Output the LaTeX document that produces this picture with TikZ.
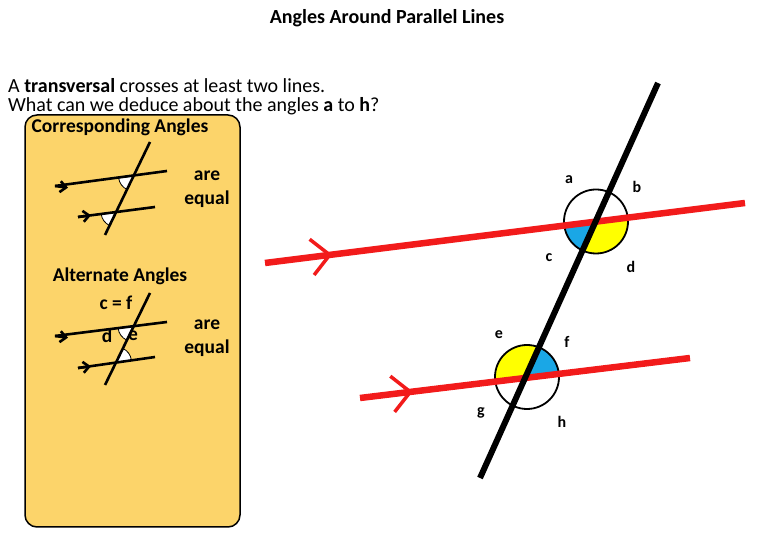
\documentclass[tikz,border=0pt]{standalone}
\usepackage{fontspec}
\setmainfont{Carlito}
\usetikzlibrary{arrows.meta,decorations.markings}
\definecolor{panel}{HTML}{FCD46A}
\definecolor{cblue}{HTML}{1AA7E6}
\definecolor{cyel}{HTML}{FFFF00}
\definecolor{lred}{HTML}{F21B1B}
\tikzset{
  redline/.style={lred,line width=6.5pt},
  chev/.style={postaction={decorate,decoration={markings,mark=at position #1 with {\arrow[lred,line width=3.5pt]{Straight Barb[length=18pt,width=36pt]}}}}},
  trans/.style={black,line width=6pt},
  mini/.style={black,line width=2.6pt},
  ring/.style={black,line width=1.8pt},
  lbl/.style={font=\fontsize{16}{18}\selectfont\bfseries},
  txt/.style={font=\fontsize{20}{24}\selectfont,anchor=west,inner sep=0pt},
  ptxt/.style={font=\fontsize{19.5}{24}\selectfont\bfseries,align=center,inner sep=0pt},
  mtip/.style={-{Straight Barb[length=6pt,width=11pt]}}
}
\begin{document}
\begin{tikzpicture}[x=1pt,y=1pt]
\useasboundingbox (0,0) rectangle (780,540);
% title and text
\node[font=\fontsize{20}{24}\selectfont\bfseries] (title) at (387,522) {Angles Around Parallel Lines};
\node[txt] (t1) at (8,454) {A \textbf{transversal} crosses at least two lines.};
\node[txt] (t2) at (8,434) {What can we deduce about the angles \textbf{a} to \textbf{h}?};
% panel
\draw[fill=panel,line width=1.5pt,rounded corners=12pt] (25,13) rectangle (240,425);
\node[ptxt] (ct) at (120,413) {Corresponding Angles};
\node[ptxt] (ce) at (207,351) {are\\equal};
\node[ptxt] (at) at (120,264) {Alternate Angles};
\node[ptxt] (cf) at (116,237) {c = f};
\node[ptxt] (dd) at (107,204) {d};
\node[ptxt] (ee) at (133,204) {e};
\node[ptxt] (ae) at (207,202) {are\\equal};
% corresponding mini
\fill[white,draw=black,line width=0.8pt] (133.5,364) -- ++(187.6:15) arc[start angle=187.6,end angle=244.2,radius=15] -- cycle;
\fill[white,draw=black,line width=0.8pt] (116,328) -- ++(187.6:15) arc[start angle=187.6,end angle=244.2,radius=15] -- cycle;
\coordinate (c1a) at (55,354); \coordinate (c1m) at (68,352.3); \coordinate (c1b) at (167,369);
\coordinate (c2a) at (78,323); \coordinate (c2m) at (91,324.7); \coordinate (c2b) at (155,333);
\draw[mini] (c1a) -- (c1b);
\draw[mini,mtip] (c1a) -- (c1m);
\draw[mini] (c2a) -- (c2b);
\draw[mini,mtip] (c2a) -- (c2m);
\coordinate (ct1) at (150,398); \coordinate (ct2) at (105,305);
\draw[mini] (ct1) -- (ct2);
% alternate mini
\fill[white,draw=black,line width=0.8pt] (133,213.5) -- ++(187.6:15) arc[start angle=187.6,end angle=244.2,radius=15] -- cycle;
\fill[white,draw=black,line width=0.8pt] (116.5,178) -- ++(7.6:15) arc[start angle=7.6,end angle=64.2,radius=15] -- cycle;
\coordinate (a1a) at (55,204); \coordinate (a1m) at (68,202.3); \coordinate (a1b) at (167,218);
\coordinate (a2a) at (78,172); \coordinate (a2m) at (91,173.7); \coordinate (a2b) at (155,183);
\draw[mini] (a1a) -- (a1b);
\draw[mini,mtip] (a1a) -- (a1m);
\draw[mini] (a2a) -- (a2b);
\draw[mini,mtip] (a2a) -- (a2m);
\coordinate (at1) at (150,247); \coordinate (at2) at (105,155);
\draw[mini] (at1) -- (at2);
% big diagram
\coordinate (P) at (596,318.5);
\coordinate (Q) at (527,163);
\fill[cblue] (P) -- ++(187.1:32) arc[start angle=187.1,end angle=245.7,radius=32] -- cycle;
\fill[cyel] (P) -- ++(245.7:32) arc[start angle=245.7,end angle=367.1,radius=32] -- cycle;
\fill[cyel] (Q) -- ++(65.7:32) arc[start angle=65.7,end angle=187.1,radius=32] -- cycle;
\fill[cblue] (Q) -- ++(7.1:32) arc[start angle=7.1,end angle=65.7,radius=32] -- cycle;
\draw[ring] (P) circle[radius=32];
\draw[ring] (Q) circle[radius=32];
\coordinate (U1) at (265,277); \coordinate (U2) at (745,337);
\coordinate (L1) at (360,142); \coordinate (L2) at (690,182);
\draw[redline,chev=0.14] (U1) -- (U2);
\draw[redline,chev=0.16] (L1) -- (L2);
\coordinate (T1) at (658,457); \coordinate (T2) at (480,62);
\draw[trans] (T1) -- (T2);
\node[lbl] (la) at (569,360) {a};
\node[lbl] (lb) at (637,353) {b};
\node[lbl] (lc) at (549,282) {c};
\node[lbl] (ld) at (631,273) {d};
\node[lbl] (le) at (499,205) {e};
\node[lbl] (lf) at (567,198) {f};
\node[lbl] (lg) at (481,127) {g};
\node[lbl] (lh) at (562,118) {h};
\end{tikzpicture}
\end{document}
